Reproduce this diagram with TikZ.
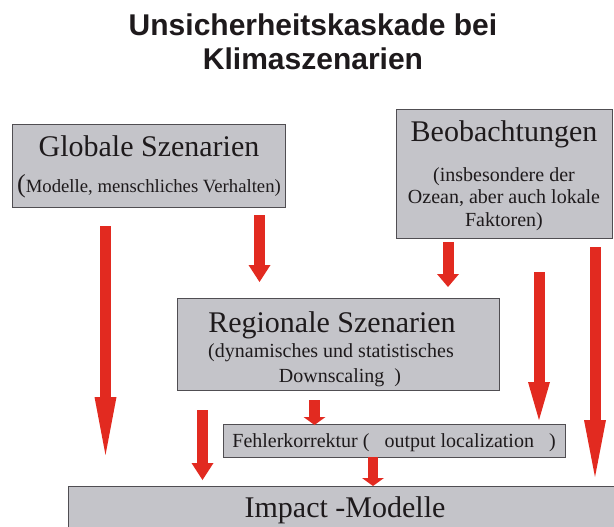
\documentclass[tikz,border=0pt]{standalone}
\usepackage{fontspec}
\setmainfont{Liberation Serif}
\newfontfamily\titlefont{Liberation Sans}
\usetikzlibrary{arrows.meta}

\definecolor{boxgray}{RGB}{196,196,201}
\definecolor{boxline}{RGB}{80,78,82}
\definecolor{arrowred}{RGB}{226,42,32}
\definecolor{textdark}{RGB}{30,26,28}

\begin{document}
\begin{tikzpicture}[x=1pt,y=-1pt,
    box/.style={draw=boxline,fill=boxgray,line width=1.4pt,anchor=north west,inner sep=0pt},
    redarrow/.style={draw=arrowred,line width=11pt,-{Triangle[width=22pt,length=#1,line width=0pt]}},
    redarrow/.default=17pt,
    big/.style={text=textdark,anchor=base,font=\fontsize{30}{32}\selectfont},
    small/.style={text=textdark,anchor=base,font=\fontsize{20}{22}\selectfont}]
    \useasboundingbox (0,0) rectangle (614,527);

    % title
    \node[anchor=base,text=textdark,font=\titlefont\bfseries\fontsize{30}{34}\selectfont] (title1) at (313,36) {Unsicherheitskaskade bei};
    \node[anchor=base,text=textdark,font=\titlefont\bfseries\fontsize{30}{34}\selectfont] (title2) at (313,70) {Klimaszenarien};

    % boxes
    \node[box,minimum width=273pt,minimum height=83pt] (glob) at (12,124) {};
    \node[box,minimum width=216pt,minimum height=129pt] (beob) at (396,109) {};
    \node[box,minimum width=322pt,minimum height=92pt] (reg) at (177,298) {};
    \node[box,minimum width=342pt,minimum height=33pt] (fehler) at (223,424) {};
    \node[box,minimum width=560pt,minimum height=60pt] (impact) at (68,486) {};

    % texts
    \node[big] (globhead) at (149,157) {Globale Szenarien};
    \node[small,font=\fontsize{18.7}{22}\selectfont] (globsub) at (149,193) {{\fontsize{26}{26}\selectfont(}Modelle, menschliches Verhalten)};
    \node[big] (beobhead) at (504,142) {Beobachtungen};
    \node[small] (beob1) at (504,182) {(insbesondere der};
    \node[small] (beob2) at (504,204) {Ozean, aber auch lokale};
    \node[small] (beob3) at (504,226) {Faktoren)};
    \node[big] (reghead) at (332,332) {Regionale Szenarien};
    \node[small] (reg1) at (331,357) {(dynamisches und statistisches};
    \node[small] (reg2) at (340,382) {Downscaling\ \ )};
    \node[small] (fehlertext) at (394,447) {Fehlerkorrektur (\ \ \ output localization\ \ \ )};
    \node[big] (impacttext) at (345,517) {Impact -Modelle};

    % arrow ends
    \coordinate (a1) at (105.5,226);  \coordinate (a2) at (105.5,455);
    \coordinate (b1) at (259.5,215);  \coordinate (b2) at (259.5,282);
    \coordinate (c1) at (448,242);    \coordinate (c2) at (448,287);
    \coordinate (d1) at (539,272);    \coordinate (d2) at (539,420);
    \coordinate (e1) at (595,247);    \coordinate (e2) at (595,477);
    \coordinate (f1) at (202.5,410);  \coordinate (f2) at (202.5,480);
    \coordinate (g1) at (314.5,400);  \coordinate (g2) at (314.5,425);
    \coordinate (h1) at (373,457);    \coordinate (h2) at (373,486);

    % arrows
    \draw[redarrow=58pt] (a1) -- (a2);
    \draw[redarrow=17pt] (b1) -- (b2);
    \draw[redarrow=13pt] (c1) -- (c2);
    \draw[redarrow=38pt] (d1) -- (d2);
    \draw[redarrow=57pt] (e1) -- (e2);
    \draw[redarrow=17pt] (f1) -- (f2);
    \draw[redarrow=8pt] (g1) -- (g2);
    \draw[redarrow=8pt,line width=10pt] (h1) -- (h2);
\end{tikzpicture}
\end{document}
